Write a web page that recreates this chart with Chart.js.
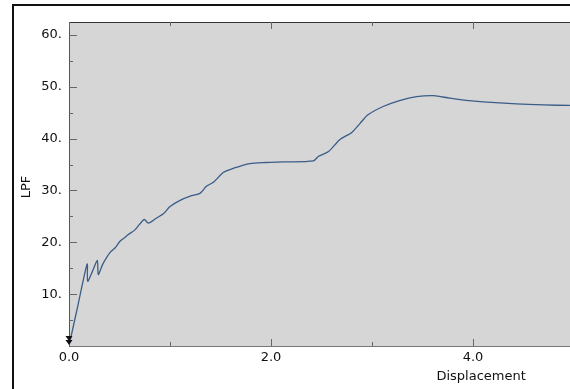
<!DOCTYPE html>
<html>
<head>
<meta charset="utf-8">
<script src="https://cdn.jsdelivr.net/npm/chart.js@4/dist/chart.umd.min.js"></script>
<style>
    html, body { margin: 0; padding: 0; background: #fff; overflow: hidden; }
    #wrap { position: relative; width: 570px; height: 389px; }
    #frame { position: absolute; left: 12px; top: 4px; width: 620px; height: 430px; border: 2px solid #111; box-sizing: border-box; }
    #chart { position: absolute; left: 0; top: 0; }
</style>
</head>
<body>
<div id="wrap">
    <div id="frame"></div>
    <canvas id="chart" width="570" height="389"></canvas>
</div>
<script>
    "use strict";

    // load-displacement history
    var displacement = [0.0, 0.09, 0.18, 0.185, 0.23, 0.28, 0.29, 0.33, 0.37, 0.41, 0.455, 0.505, 0.55, 0.587,
        0.653, 0.70, 0.746, 0.785, 0.86, 0.934, 1.0, 1.10, 1.20, 1.30, 1.36, 1.43, 1.53, 1.63, 1.79, 1.95,
        2.12, 2.42, 2.47, 2.57, 2.68, 2.80, 2.88, 2.96, 3.11, 3.28, 3.44, 3.61, 3.77, 3.93, 4.10, 4.43, 4.70, 4.96];
    var lpf = [0.0, 8.0, 15.8, 12.5, 14.3, 16.5, 13.8, 15.6, 17.0, 18.1, 18.9, 20.2, 20.9, 21.5,
        22.4, 23.5, 24.4, 23.7, 24.6, 25.5, 26.9, 28.1, 28.9, 29.5, 30.8, 31.6, 33.5, 34.3, 35.2, 35.4,
        35.5, 35.7, 36.6, 37.5, 39.8, 41.2, 42.9, 44.6, 46.2, 47.4, 48.1, 48.3, 47.8, 47.4, 47.1, 46.7, 46.5, 46.4];

    var xTickValues = [0, 2, 4];
    var xMinorValues = [1, 3];
    var yTickValues = [10, 20, 30, 40, 50, 60];
    var yMinorValues = [5, 15, 25, 35, 45, 55];

    var fontFamily = "'DejaVu Sans', Verdana, sans-serif";

    // inward tick marks, axis titles and the support arrow at the origin
    var decorPlugin = {
        id: "decor",
        afterDraw: function (chart) {
            var ctx = chart.ctx;
            var xs = chart.scales.x;
            var ys = chart.scales.y;
            var area = chart.chartArea;
            ctx.save();

            // top border of the plot
            ctx.strokeStyle = "#333";
            ctx.lineWidth = 1;
            ctx.beginPath();
            ctx.moveTo(area.left, area.top + 0.5);
            ctx.lineTo(area.right, area.top + 0.5);
            ctx.stroke();

            ctx.strokeStyle = "#666";
            xTickValues.concat(xMinorValues).forEach(function (v) {
                var px = Math.round(xs.getPixelForValue(v)) + 0.5;
                var len = xMinorValues.indexOf(v) >= 0 ? 4 : 7;
                ctx.beginPath();
                ctx.moveTo(px, area.bottom);
                ctx.lineTo(px, area.bottom - len);
                ctx.moveTo(px, area.top);
                ctx.lineTo(px, area.top + len);
                ctx.stroke();
            });
            yTickValues.concat(yMinorValues).forEach(function (v) {
                var py = Math.round(ys.getPixelForValue(v)) + 0.5;
                var len = yMinorValues.indexOf(v) >= 0 ? 4 : 8;
                ctx.beginPath();
                ctx.moveTo(area.left, py);
                ctx.lineTo(area.left + len, py);
                ctx.stroke();
            });

            // double arrow at the first point
            var ax = xs.getPixelForValue(displacement[0]);
            var ay = ys.getPixelForValue(lpf[0]);
            ctx.fillStyle = "#111";
            [ay - 1, ay - 5].forEach(function (tip) {
                ctx.beginPath();
                ctx.moveTo(ax, tip);
                ctx.lineTo(ax - 3.5, tip - 5);
                ctx.lineTo(ax + 3.5, tip - 5);
                ctx.closePath();
                ctx.fill();
            });

            // axis titles
            ctx.fillStyle = "#111";
            ctx.font = "13px " + fontFamily;
            ctx.textAlign = "center";
            ctx.textBaseline = "middle";
            ctx.fillText("Displacement", xs.getPixelForValue(4.08), 377);

            ctx.translate(27, (area.top + area.bottom) / 2 + 3);
            ctx.rotate(-Math.PI / 2);
            ctx.fillText("LPF", 0, 0);
            ctx.restore();
        }
    };

    var plotBackground = {
        id: "plotBackground",
        beforeDraw: function (chart) {
            var a = chart.chartArea;
            chart.ctx.save();
            chart.ctx.fillStyle = "#d6d6d6";
            chart.ctx.fillRect(a.left, a.top, a.right - a.left, a.bottom - a.top);
            chart.ctx.restore();
        }
    };

    var points = displacement.map(function (d, i) { return { x: d, y: lpf[i] }; });

    new Chart(document.getElementById("chart"), {
        type: "line",
        data: {
            datasets: [{
                data: points,
                borderColor: "#3a5d89",
                borderWidth: 1.3,
                pointRadius: 0,
                tension: 0.25,
                fill: false
            }]
        },
        options: {
            responsive: false,
            animation: false,
            layout: { padding: { top: 22, right: 0, left: 0, bottom: 0 } },
            plugins: {
                legend: { display: false },
                tooltip: { enabled: false }
            },
            scales: {
                x: {
                    type: "linear",
                    min: 0,
                    max: 4.96,
                    grid: { display: false, drawTicks: false },
                    border: { display: true, color: "#777", width: 1 },
                    afterBuildTicks: function (scale) {
                        scale.ticks = xTickValues.map(function (v) { return { value: v }; });
                    },
                    afterFit: function (scale) { scale.height = 43; },
                    ticks: {
                        padding: 4,
                        color: "#111",
                        font: { family: fontFamily, size: 13 },
                        maxRotation: 0,
                        callback: function (v) { return Number(v).toFixed(1); }
                    }
                },
                y: {
                    type: "linear",
                    min: 0,
                    max: 62.5,
                    grid: { display: false, drawTicks: false },
                    border: { display: true, color: "#555", width: 1 },
                    afterBuildTicks: function (scale) {
                        scale.ticks = yTickValues.map(function (v) { return { value: v }; });
                    },
                    afterFit: function (scale) { scale.width = 69; },
                    ticks: {
                        padding: 7,
                        color: "#111",
                        font: { family: fontFamily, size: 13 },
                        callback: function (v) { return v + "."; }
                    }
                }
            }
        },
        plugins: [plotBackground, decorPlugin]
    });
</script>
</body>
</html>
